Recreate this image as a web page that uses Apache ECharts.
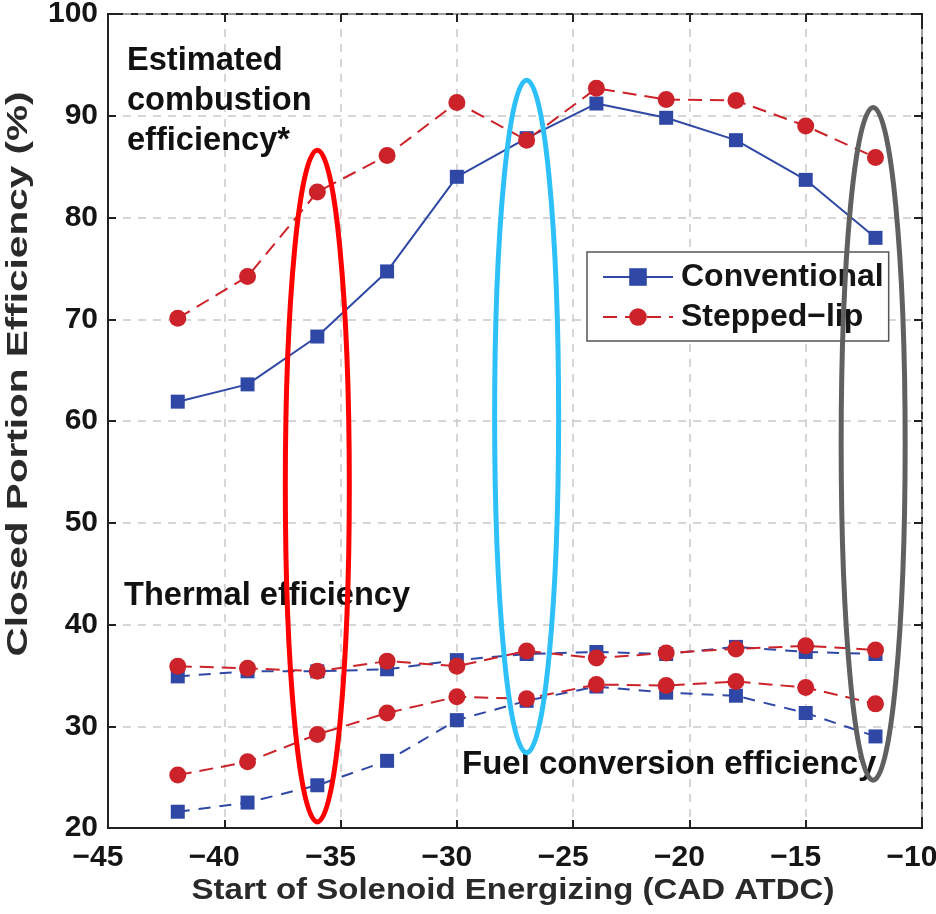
<!DOCTYPE html>
<html>
<head>
<meta charset="utf-8">
<script src="https://cdn.jsdelivr.net/npm/echarts@6/dist/echarts.min.js"></script>
<style>
  html, body { margin: 0; padding: 0; background: #fff; }
  #chart { width: 936px; height: 914px; }
</style>
</head>
<body>
<div id="chart"></div>
<script>
const BLUE = "#2f48a6";
const RED = "#cc2229";
const INK = "#151515";
const FONT = "Liberation Sans";

// start of solenoid energizing (CAD ATDC)
const xValues = [-42, -39, -36, -33, -30, -27, -24, -21, -18, -15, -12];

// estimated combustion efficiency
const combConventional = [61.9, 63.6, 68.3, 74.7, 84.0, 87.8, 91.2, 89.8, 87.6, 83.7, 78.0];
const combSteppedLip = [70.1, 74.2, 82.5, 86.1, 91.3, 87.6, 92.7, 91.6, 91.5, 89.0, 85.9];

// thermal efficiency
const thermConventional = [34.9, 35.4, 35.4, 35.6, 36.5, 37.1, 37.3, 37.1, 37.8, 37.3, 37.1];
const thermSteppedLip = [35.9, 35.7, 35.4, 36.4, 35.9, 37.4, 36.7, 37.2, 37.6, 37.9, 37.5];

// fuel conversion efficiency
const fuelConventional = [21.6, 22.5, 24.2, 26.6, 30.6, 32.5, 33.9, 33.3, 33.0, 31.3, 29.0];
const fuelSteppedLip = [25.2, 26.5, 29.2, 31.3, 32.9, 32.7, 34.1, 34.0, 34.4, 33.8, 32.2];

// highlighted injection timings (ellipses, in data units)
const ringCenters = [-36, -27, -12.1];
const ringTops = [86.6, 93.5, 90.8];
const ringBottoms = [20.6, 27.4, 24.7];
const ringColors = ["#ff0000", "#2ec0f8", "#606060"];

const pairs = (ys) => xValues.map((x, i) => [x, ys[i]]);

function mkSeries(name, ys, color, symbol, lineType) {
  return {
    name,
    type: "line",
    data: pairs(ys),
    symbol,
    symbolSize: symbol === "rect" ? 14 : 17,
    lineStyle: { color, width: 2, type: lineType },
    itemStyle: { color },
    z: 3,
  };
}

const chart = echarts.init(document.getElementById("chart"), undefined, { renderer: "canvas" });

const tickLabel = { color: INK, fontSize: 30, fontWeight: "bold", fontFamily: FONT };
const gridLine = { show: true, lineStyle: { color: "#c9c9c9", type: [8, 7], width: 1.5 } };
const tick = { inside: true, length: 8, lineStyle: { color: "#222", width: 2 } };
const minus = (v) => String(v).replace("-", "\u2212");

chart.setOption({
  animation: false,
  grid: {
    left: 108, right: 14, top: 14, bottom: 86,
    outerBoundsMode: "none", containLabel: false,
    show: true, borderColor: "#222", borderWidth: 2,
  },
  xAxis: [
    {
      type: "value", min: -45, max: -10, interval: 5,
      axisLine: { show: true, lineStyle: { color: "#222", width: 2 } },
      axisTick: tick,
      axisLabel: { ...tickLabel, margin: 15, padding: [0, 20, 0, 0], formatter: minus },
      splitLine: gridLine,
    },
    {
      type: "value", min: -45, max: -10, interval: 5, position: "top",
      axisLine: { show: false }, axisTick: tick,
      axisLabel: { show: false }, splitLine: { show: false },
    },
  ],
  yAxis: [
    {
      type: "value", min: 20, max: 100, interval: 10,
      axisLine: { show: true, lineStyle: { color: "#222", width: 2 } },
      axisTick: tick,
      axisLabel: { ...tickLabel, margin: 10 },
      splitLine: gridLine,
    },
    {
      type: "value", min: 20, max: 100, interval: 10, position: "right",
      axisLine: { show: false }, axisTick: tick,
      axisLabel: { show: false }, splitLine: { show: false },
    },
  ],
  legend: {
    data: ["Conventional", "Stepped\u2212lip"],
    orient: "vertical",
    left: 587,
    top: 252,
    padding: [9, 5, 8, 15],
    itemGap: 8,
    itemWidth: 70,
    itemHeight: 22,
    backgroundColor: "#fff",
    borderColor: "#555",
    borderWidth: 1.5,
    borderRadius: 0,
    textStyle: { color: INK, fontSize: 32, fontWeight: "bold", fontFamily: FONT, padding: [0, 0, 0, 3] },
  },
  series: [
    mkSeries("Conventional", combConventional, BLUE, "rect", "solid"),
    mkSeries("Stepped\u2212lip", combSteppedLip, RED, "circle", [14, 8]),
    mkSeries("thermConv", thermConventional, BLUE, "rect", [12, 9]),
    mkSeries("thermStep", thermSteppedLip, RED, "circle", [14, 8]),
    mkSeries("fuelConv", fuelConventional, BLUE, "rect", [12, 9]),
    mkSeries("fuelStep", fuelSteppedLip, RED, "circle", [14, 8]),
  ],
});

function drawOverlay() {
  const rings = ringCenters.map((cx, i) => {
    const top = chart.convertToPixel({ gridIndex: 0 }, [cx, ringTops[i]]);
    const bot = chart.convertToPixel({ gridIndex: 0 }, [cx, ringBottoms[i]]);
    return {
      type: "ellipse",
      shape: { cx: top[0], cy: (top[1] + bot[1]) / 2, rx: 32, ry: (bot[1] - top[1]) / 2 },
      style: { fill: "none", stroke: ringColors[i], lineWidth: 5 },
      z: 10,
    };
  });
  const label = (text, left, top, size) => ({
    type: "text", left, top, z: 5,
    style: { text, fill: "#111", font: `bold ${size}px "${FONT}"`, lineHeight: 40 },
  });
  // axis titles (the original's lettering is stretched, hence the scale)
  const title = (text, x, y, rot, sx) => ({
    type: "text", x, y, rotation: rot, scaleX: sx, scaleY: 1, z: 5,
    style: {
      text, fill: "#2a2a2a", font: `bold 30px "${FONT}"`,
      align: "center", verticalAlign: "middle",
    },
  });
  chart.setOption({
    graphic: [
      ...rings,
      label("Estimated\ncombustion\nefficiency*", 127, 41, 32.6),
      label("Thermal efficiency", 124, 576, 32.6),
      label("Fuel conversion efficiency", 462, 745, 33),
      title("Start of Solenoid Energizing (CAD ATDC)", 513, 891, 0, 1.1),
      title("Closed Portion Efficiency (%)", 19, 374, Math.PI / 2, 1.35),
    ],
  });
}
drawOverlay();
</script>
</body>
</html>
